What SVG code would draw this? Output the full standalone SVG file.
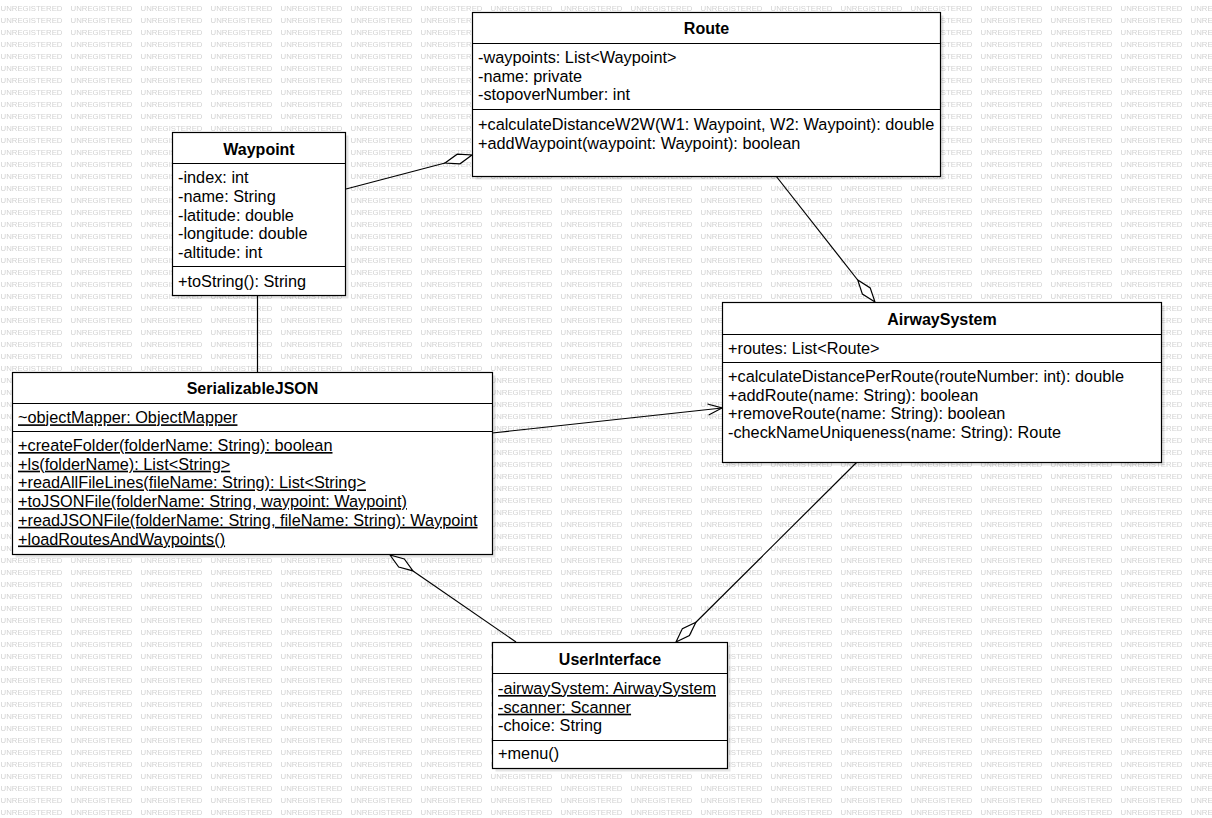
<svg xmlns="http://www.w3.org/2000/svg" width="1212" height="818" viewBox="0 0 1212 818">
  <style>
    .box { fill: #ffffff; stroke: #000000; stroke-width: 1.2; }
    .shadow { fill: #000000; opacity: 0.1; }
    .sep { stroke: #000000; stroke-width: 1.2; }
    .title { font-family: "Liberation Sans", Arial, sans-serif; font-size: 16px; font-weight: bold; text-anchor: middle; fill: #000; }
    .row { font-family: "Liberation Sans", Arial, sans-serif; font-size: 16.3px; fill: #000; }
    .static { text-decoration: underline; }
    .wm { font-family: "Liberation Sans", Arial, sans-serif; font-size: 8px; fill: #d2d2d2; }
    .edge { fill: none; stroke: #000000; stroke-width: 1.2; }
    .diamond { fill: #ffffff; stroke: #000000; stroke-width: 1.2; }
  </style>
  <defs>
    <pattern id="watermark" patternUnits="userSpaceOnUse" x="0" y="0" width="70" height="12">
      <text class="wm" x="0.5" y="10.7" textLength="62" lengthAdjust="spacingAndGlyphs">UNREGISTERED</text>
    </pattern>
  </defs>

  <!-- background -->
  <rect x="0" y="0" width="1212" height="818" fill="#ffffff"/>
  <rect x="0" y="0" width="1212" height="818" fill="url(#watermark)"/>

  <!-- connectors -->
  <g id="connectors">
    <!-- Waypoint aggregated by Route -->
    <line class="edge" x1="346" y1="189" x2="445" y2="163"/>
    <polygon class="diamond" points="472,155 460,163.8 445,163 457.2,154.2"/>
    <!-- Route aggregated by AirwaySystem -->
    <line class="edge" x1="776" y1="176" x2="857.7" y2="280"/>
    <polygon class="diamond" points="875,302 862.4,294.1 857.7,280 870.2,287.9"/>
    <!-- Waypoint to SerializableJSON -->
    <line class="edge" x1="257.5" y1="296" x2="257.5" y2="372"/>
    <!-- SerializableJSON to AirwaySystem -->
    <line class="edge" x1="492" y1="433" x2="722" y2="408"/>
    <polyline class="edge" points="707.5,404 722,408 708.7,415"/>
    <!-- UserInterface aggregated by SerializableJSON -->
    <line class="edge" x1="413" y1="570.9" x2="516" y2="642"/>
    <polygon class="diamond" points="390,555 398.7,567.1 413,570.9 404.3,558.9"/>
    <!-- AirwaySystem aggregated by UserInterface -->
    <line class="edge" x1="857" y1="462" x2="695.9" y2="622.3"/>
    <polygon class="diamond" points="676,642 682.4,628.6 695.9,622.3 689.4,635.6"/>
  </g>

  <!-- Route -->
  <g id="route">
    <rect class="shadow" x="475.5" y="15.5" width="468" height="164"/>
    <rect class="box" x="472.5" y="12.5" width="468" height="164"/>
    <line class="sep" x1="472.5" y1="43.5" x2="940.5" y2="43.5"/>
    <line class="sep" x1="472.5" y1="109.5" x2="940.5" y2="109.5"/>
    <text class="title" x="706.5" y="34">Route</text>
    <text class="row" x="478" y="63">-waypoints: List&lt;Waypoint&gt;</text>
    <text class="row" x="478" y="81.7">-name: private</text>
    <text class="row" x="478" y="100.4">-stopoverNumber: int</text>
    <text class="row" x="478" y="130">+calculateDistanceW2W(W1: Waypoint, W2: Waypoint): double</text>
    <text class="row" x="478" y="148.7">+addWaypoint(waypoint: Waypoint): boolean</text>
  </g>

  <!-- Waypoint -->
  <g id="waypoint">
    <rect class="shadow" x="175.5" y="135.5" width="173" height="163"/>
    <rect class="box" x="172.5" y="132.5" width="173" height="163"/>
    <line class="sep" x1="172.5" y1="163.5" x2="345.5" y2="163.5"/>
    <line class="sep" x1="172.5" y1="266.5" x2="345.5" y2="266.5"/>
    <text class="title" x="259" y="155">Waypoint</text>
    <text class="row" x="178" y="183.3">-index: int</text>
    <text class="row" x="178" y="202">-name: String</text>
    <text class="row" x="178" y="220.6">-latitude: double</text>
    <text class="row" x="178" y="239.3">-longitude: double</text>
    <text class="row" x="178" y="258">-altitude: int</text>
    <text class="row" x="178" y="286.5">+toString(): String</text>
  </g>

  <!-- AirwaySystem -->
  <g id="airway-system">
    <rect class="shadow" x="725.5" y="305.5" width="439" height="160"/>
    <rect class="box" x="722.5" y="302.5" width="439" height="160"/>
    <line class="sep" x1="722.5" y1="334.5" x2="1161.5" y2="334.5"/>
    <line class="sep" x1="722.5" y1="362.5" x2="1161.5" y2="362.5"/>
    <text class="title" x="942" y="325">AirwaySystem</text>
    <text class="row" x="728" y="354">+routes: List&lt;Route&gt;</text>
    <text class="row" x="728" y="382">+calculateDistancePerRoute(routeNumber: int): double</text>
    <text class="row" x="728" y="400.7">+addRoute(name: String): boolean</text>
    <text class="row" x="728" y="419.4">+removeRoute(name: String): boolean</text>
    <text class="row" x="728" y="438">-checkNameUniqueness(name: String): Route</text>
  </g>

  <!-- SerializableJSON -->
  <g id="serializable-json">
    <rect class="shadow" x="15.5" y="375.5" width="480" height="182"/>
    <rect class="box" x="12.5" y="372.5" width="480" height="182"/>
    <line class="sep" x1="12.5" y1="403.5" x2="492.5" y2="403.5"/>
    <line class="sep" x1="12.5" y1="431.5" x2="492.5" y2="431.5"/>
    <text class="title" x="252.5" y="394">SerializableJSON</text>
    <text class="row static" x="18" y="423.3">~objectMapper: ObjectMapper</text>
    <text class="row static" x="18" y="451">+createFolder(folderName: String): boolean</text>
    <text class="row static" x="18" y="469.7">+ls(folderName): List&lt;String&gt;</text>
    <text class="row static" x="18" y="488.4">+readAllFileLines(fileName: String): List&lt;String&gt;</text>
    <text class="row static" x="18" y="507.1">+toJSONFile(folderName: String, waypoint: Waypoint)</text>
    <text class="row static" x="18" y="525.8">+readJSONFile(folderName: String, fileName: String): Waypoint</text>
    <text class="row static" x="18" y="544.5">+loadRoutesAndWaypoints()</text>
  </g>

  <!-- UserInterface -->
  <g id="user-interface">
    <rect class="shadow" x="495.5" y="645.5" width="235" height="126"/>
    <rect class="box" x="492.5" y="642.5" width="235" height="126"/>
    <line class="sep" x1="492.5" y1="673.5" x2="727.5" y2="673.5"/>
    <line class="sep" x1="492.5" y1="740.5" x2="727.5" y2="740.5"/>
    <text class="title" x="610" y="665">UserInterface</text>
    <text class="row static" x="498" y="694">-airwaySystem: AirwaySystem</text>
    <text class="row static" x="498" y="712.7">-scanner: Scanner</text>
    <text class="row" x="498" y="731.4">-choice: String</text>
    <text class="row" x="498" y="759">+menu()</text>
  </g>
</svg>
